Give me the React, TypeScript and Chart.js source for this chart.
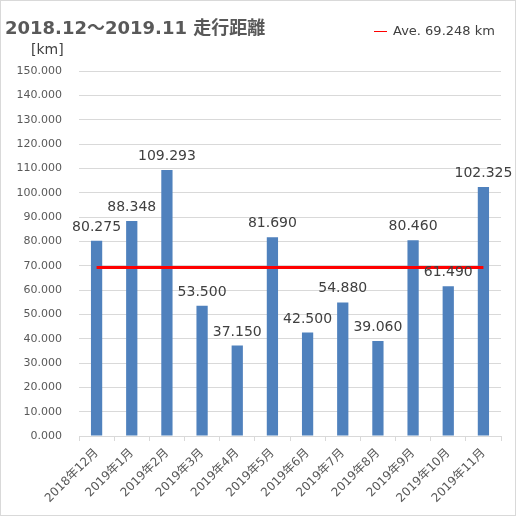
import React, { useEffect, useRef } from "react";
import { Chart, registerables } from "chart.js";

Chart.register(...registerables);

const categories = [
  "2018年12月",
  "2019年1月",
  "2019年2月",
  "2019年3月",
  "2019年4月",
  "2019年5月",
  "2019年6月",
  "2019年7月",
  "2019年8月",
  "2019年9月",
  "2019年10月",
  "2019年11月",
];
const distances = [80.275, 88.348, 109.293, 53.5, 37.15, 81.69, 42.5, 54.88, 39.06, 80.46, 61.49, 102.325];
const AVERAGE = 69.248;
const Y_MIN = 0;
const Y_MAX = 150;
const Y_STEP = 10;
const TITLE = "2018.12～2019.11 走行距離";
const UNIT = "[km]";
const LEGEND_TEXT = "Ave. 69.248 km";

const BAR_COLOR = "#4F81BD";
const LINE_COLOR = "#FF0000";
const GRID_COLOR = "#D9D9D9";
const TEXT_COLOR = "#595959";
const LABEL_COLOR = "#404040";

const barLabels = {
  id: "barLabels",
  afterDatasetsDraw(chart: any) {
    const meta = chart.getDatasetMeta(1);
    const ctx = chart.ctx;
    ctx.save();
    ctx.font = '14px "DejaVu Sans"';
    ctx.fillStyle = LABEL_COLOR;
    ctx.textAlign = "center";
    ctx.textBaseline = "alphabetic";
    meta.data.forEach((el: any, i: number) => {
      ctx.fillText(distances[i].toFixed(3), el.x, el.y - 10);
    });
    ctx.restore();
  },
};

const decorations = {
  id: "decorations",
  afterDraw(chart: any) {
    const ctx = chart.ctx;
    ctx.save();
    ctx.textBaseline = "middle";
    ctx.textAlign = "left";
    ctx.fillStyle = TEXT_COLOR;
    ctx.font = 'bold 18px "DejaVu Sans", "Noto Sans CJK JP"';
    ctx.fillText(TITLE, 4, 28);
    ctx.fillStyle = LABEL_COLOR;
    ctx.font = '14px "DejaVu Sans"';
    ctx.fillText(UNIT, 30, 49.5);
    ctx.strokeStyle = LINE_COLOR;
    ctx.lineWidth = 1;
    ctx.beginPath();
    ctx.moveTo(373, 30.5);
    ctx.lineTo(386, 30.5);
    ctx.stroke();
    ctx.font = '13px "DejaVu Sans"';
    ctx.fillText(LEGEND_TEXT, 392, 31);
    ctx.restore();
  },
};

export default function App() {
  const ref = useRef<HTMLCanvasElement>(null);
  useEffect(() => {
    if (!ref.current) return;
    const chart = new Chart(ref.current, {
      type: "bar",
      data: {
        labels: categories,
        datasets: [
          {
            type: "line" as any,
            label: "Ave.",
            data: categories.map(() => AVERAGE),
            borderColor: LINE_COLOR,
            borderWidth: 3,
            pointRadius: 0,
            fill: false,
            order: 0,
          } as any,
          {
            type: "bar",
            label: "走行距離",
            data: distances,
            backgroundColor: BAR_COLOR,
            barPercentage: 0.32,
            categoryPercentage: 1,
            order: 1,
          },
        ],
      },
      options: {
        responsive: false,
        animation: false,
        layout: { padding: { top: 70, right: 14, left: 0, bottom: 0 } },
        plugins: {
          legend: { display: false },
          tooltip: { enabled: false },
          title: { display: false },
        },
        scales: {
          x: {
            offset: true,
            grid: {
              display: true,
              offset: true,
              drawOnChartArea: false,
              drawTicks: true,
              tickLength: 5,
              color: GRID_COLOR,
            },
            border: { display: true, color: GRID_COLOR },
            ticks: {
              minRotation: 45,
              maxRotation: 45,
              autoSkip: false,
              padding: 5,
              color: TEXT_COLOR,
              font: { family: '"DejaVu Sans", "Noto Sans CJK JP"', size: 12 },
            },
            afterFit(scale: any) {
              scale.height = 79;
            },
          },
          y: {
            min: Y_MIN,
            max: Y_MAX,
            grid: { color: GRID_COLOR, drawTicks: false },
            border: { display: false },
            ticks: {
              stepSize: Y_STEP,
              padding: 17,
              color: TEXT_COLOR,
              font: { family: '"DejaVu Sans"', size: 11 },
              callback: (v: any) => Number(v).toFixed(3),
            },
            afterFit(scale: any) {
              scale.width = 78;
            },
          },
        },
      },
      plugins: [barLabels, decorations],
    });
    return () => chart.destroy();
  }, []);
  return (
    <div
      style={{
        position: "absolute",
        left: 0,
        top: 0,
        width: 516,
        height: 516,
        boxSizing: "border-box",
        border: "1px solid #D9D9D9",
        background: "#fff",
      }}
    >
      <canvas ref={ref} width={514} height={514} style={{ display: "block" }} />
    </div>
  );
}
